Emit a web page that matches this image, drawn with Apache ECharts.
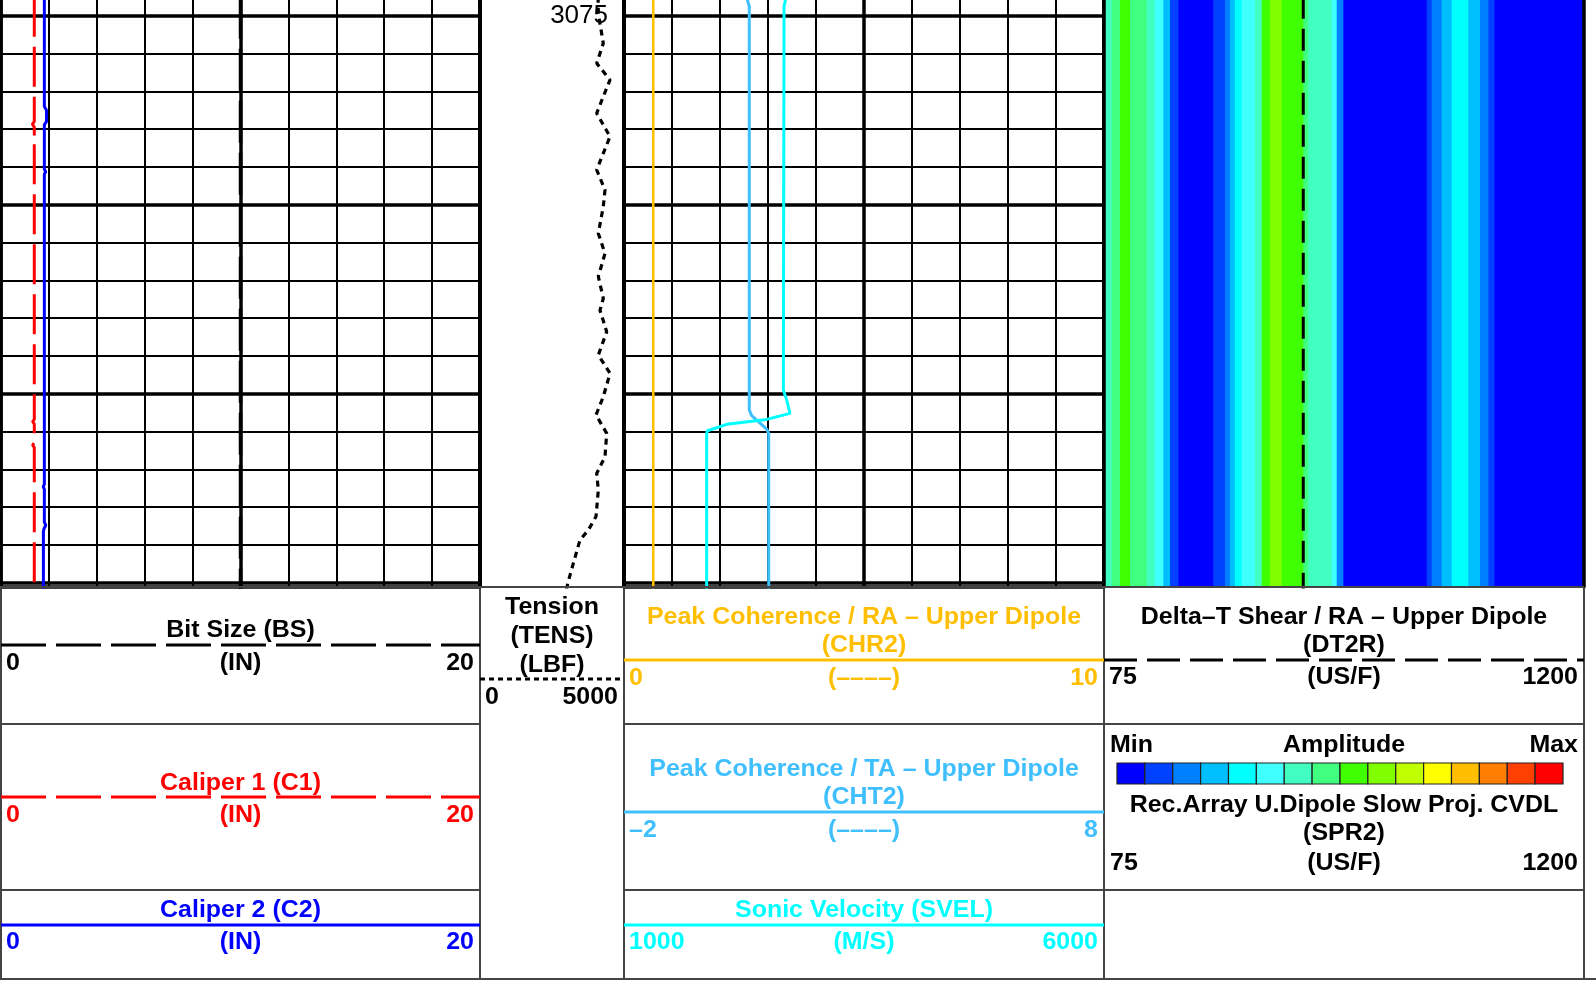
<!DOCTYPE html>
<html>
<head>
<meta charset="utf-8">
<title>Dipole sonic log</title>
<script src="https://cdn.jsdelivr.net/npm/echarts@6/dist/echarts.min.js"></script>
<style>
  html, body { margin: 0; padding: 0; background: #fff; }
  #chart { width: 1596px; height: 982px; }
</style>
</head>
<body>
<div id="chart"></div>
<script>
// ---------------- Depth range (m) ----------------
const DEPTH_MIN = 3070;        // axis origin (multiple of the 1 m / 5 m grid)
const DEPTH_TOP = 3074.585;    // first logged depth shown
const DEPTH_BOTTOM = 3090.114; // last logged depth shown

// ---------------- Track 1: calipers / bit size (IN, 0-20) ----------------
const bsDepth = [3074.5, 3090.2];
const bsValue = [10, 10];

const c1Depth = [3074.5, 3077.80, 3077.87, 3077.95, 3078.22, 3078.29, 3078.36, 3085.68, 3085.74, 3085.80, 3086.30, 3086.36, 3086.42, 3090.2];
const c1Value = [1.39, 1.39, 1.31, 1.39, 1.39, 1.31, 1.39, 1.39, 1.32, 1.39, 1.39, 1.32, 1.39, 1.39];

const c2Depth = [3074.5, 3077.40, 3077.50, 3077.80, 3077.88, 3079.07, 3079.13, 3079.19, 3087.40, 3087.46, 3087.52, 3088.40, 3088.48, 3088.58, 3088.66, 3090.2];
const c2Value = [1.81, 1.81, 1.90, 1.90, 1.81, 1.81, 1.87, 1.81, 1.81, 1.76, 1.81, 1.81, 1.87, 1.79, 1.77, 1.77];

// ---------------- Track 2: tension (LBF, 0-5000) ----------------
const tensDepth = [3074.50, 3074.94, 3075.73, 3076.26, 3076.70, 3077.14, 3077.58, 3078.20, 3078.64, 3079.08, 3079.61, 3080.05, 3080.76, 3081.29, 3081.90, 3082.48, 3082.79, 3083.36, 3083.98, 3084.46, 3085.08, 3085.56, 3086.05, 3086.67, 3087.11, 3087.55, 3088.25, 3088.61, 3088.87, 3089.49, 3090.02, 3090.20];
const tensValue = [4100, 4108, 4281, 4052, 4514, 4281, 4052, 4514, 4281, 4052, 4340, 4281, 4108, 4340, 4108, 4281, 4167, 4399, 4108, 4514, 4281, 4028, 4399, 4340, 4052, 4108, 4028, 3760, 3472, 3240, 3045, 3000];

// ---------------- Track 3: coherence and sonic velocity ----------------
const chr2Depth = [3074.5, 3090.2];
const chr2Value = [0.61, 0.61];

const cht2Depth = [3074.5, 3074.75, 3085.43, 3085.58, 3085.70, 3085.94, 3086.05, 3090.2];
const cht2Value = [0.55, 0.61, 0.61, 0.66, 0.765, 0.973, 1.015, 1.015];

const svelDepth = [3074.5, 3074.75, 3084.90, 3085.17, 3085.52, 3085.68, 3085.81, 3085.98, 3086.05, 3090.2];
const svelValue = [2690, 2667, 2660, 2695, 2729, 2486, 2070, 1870, 1861, 1861];

// ---------------- Track 4: slowness projection (US/F, 75-1200) ----------------
const dt2rDepth = [3074.5, 3090.2];
const dt2rValue = [542, 542];

// SPR2 amplitude class per slowness band (edges in US/F, class 0 = Min ... 15 = Max)
const sprEdges = [75, 93.0, 112.5, 135.9, 175.1, 194.5, 214.0, 229.7, 249.1, 331.2, 358.6, 370.3, 382.0, 397.7, 428.9, 444.6, 464.1, 491.5, 542.1, 553.8, 608.7, 620.4, 635.9, 831.3, 843.0, 866.5, 890.0, 928.8, 956.3, 975.7, 989.8, 1200];
const sprClass = [6, 7, 8, 7, 6, 5, 3, 1, 0, 1, 2, 3, 4, 5, 6, 8, 9, 8, 7, 6, 5, 2, 0, 1, 2, 3, 4, 3, 2, 1, 0];

const ampColors = ['#0000FF', '#0040FF', '#0080FF', '#00BFFF', '#00FFFF', '#40FFFF', '#40FFC0', '#40FF80',
                   '#40FF00', '#80FF00', '#BFFF00', '#FFFF00', '#FFBF00', '#FF8000', '#FF4000', '#FF0000'];

// ---------------- Colours / fonts ----------------
const RED = '#FF0000', BLUE = '#0000FF', ORANGE = '#FFBF00', SKY = '#40BFFF', CYAN = '#00FFFF', BLACK = '#000000';
const FONT = '"Liberation Sans", Arial, Helvetica, sans-serif';

// ---------------- Layout ----------------
const PX_PER_M = 37.8;
const PLOT_BOTTOM = 587;
const gridHeight = (DEPTH_BOTTOM - DEPTH_MIN) * PX_PER_M;
const gridTop = PLOT_BOTTOM - gridHeight;   // above the page: the 3070-3074.6 m part is not shown
const tracks = [
  { x0: 1, x1: 480 },
  { x0: 480, x1: 624 },
  { x0: 624, x1: 1104 },
  { x0: 1104, x1: 1584 }
];

const zip = (d, v) => d.map((dep, i) => [v[i], dep]);

// ---------------- Axes ----------------
const hidden = { axisLine: { show: false }, axisTick: { show: false }, axisLabel: { show: false } };
function gridX(gi, interval, width) {
  return Object.assign({ gridIndex: gi, type: 'value', min: 0, max: 10, interval, position: 'top',
    splitLine: { show: true, lineStyle: { color: BLACK, width } } }, hidden);
}
function curveX(gi, min, max) {
  return Object.assign({ gridIndex: gi, type: 'value', min, max, position: 'top', splitLine: { show: false } }, hidden);
}
function depthY(gi, position, interval, splitWidth, z) {
  return {
    gridIndex: gi, type: 'value', inverse: true, min: DEPTH_MIN, max: DEPTH_BOTTOM, interval, position, z: z || 0,
    axisLine: { show: true, onZero: false, lineStyle: { color: BLACK, width: 3.5 } },
    axisTick: { show: false }, axisLabel: { show: false },
    splitLine: { show: !!splitWidth, lineStyle: { color: BLACK, width: splitWidth || 1 } }
  };
}

const xAxis = [
  gridX(0, 1, 2), gridX(0, 5, 3.5), curveX(0, 0, 20),          // 0,1,2
  curveX(1, 0, 5000),                                          // 3
  gridX(2, 1, 2), gridX(2, 5, 3.5),                            // 4,5
  curveX(2, 0, 10), curveX(2, -2, 8), curveX(2, 1000, 6000),   // 6,7,8
  curveX(3, 75, 1200)                                          // 9
];

const depthLabelAxis = depthY(1, 'right', 5, 0);
depthLabelAxis.axisLabel = {
  show: true, inside: true, margin: 16, color: BLACK, fontFamily: FONT, fontSize: 26,
  verticalAlign: 'middle', padding: [0, 0, 22, 0],
  formatter: v => (Math.abs(v - Math.round(v)) < 1e-6 && Math.round(v) % 25 === 0) ? String(Math.round(v)) : ''
};

const yAxis = [
  depthY(0, 'left', 1, 2), depthY(0, 'right', 5, 3.5),   // 0,1
  depthY(1, 'left', 5, 0), depthLabelAxis,               // 2,3
  depthY(2, 'left', 1, 2), depthY(2, 'right', 5, 3.5),   // 4,5
  depthY(3, 'left', 5, 0, 10), depthY(3, 'right', 5, 0, 10) // 6,7
];

const grid = tracks.map(t => ({
  left: t.x0, width: t.x1 - t.x0, top: gridTop, height: gridHeight,
  containLabel: false, outerBoundsMode: 'none'
}));

// ---------------- Series ----------------
function curve(name, xi, yi, data, color, width, type) {
  return { name, type: 'line', xAxisIndex: xi, yAxisIndex: yi, data, showSymbol: false, symbol: 'none',
    silent: true, z: 4, lineStyle: { color, width, type: type || 'solid' } };
}

const sprData = sprClass.map((c, i) => [sprEdges[i], sprEdges[i + 1], c, DEPTH_TOP, DEPTH_BOTTOM]);

const series = [
  {
    name: 'SPR2', type: 'custom', xAxisIndex: 9, yAxisIndex: 6, silent: true, z: 1,
    encode: { x: [0, 1], y: [3, 4] },
    data: sprData,
    renderItem: (params, api) => {
      const p0 = api.coord([api.value(0), api.value(3)]);
      const p1 = api.coord([api.value(1), api.value(4)]);
      return { type: 'rect', shape: { x: p0[0], y: p0[1], width: p1[0] - p0[0] + 0.6, height: p1[1] - p0[1] },
               style: { fill: ampColors[api.value(2)] } };
    }
  },
  curve('BS', 2, 0, zip(bsDepth, bsValue), BLACK, 3.5, [42, 10]),
  curve('C1', 2, 0, zip(c1Depth, c1Value), RED, 3, [40, 10]),
  curve('C2', 2, 0, zip(c2Depth, c2Value), BLUE, 3),
  curve('TENS', 3, 2, zip(tensDepth, tensValue), BLACK, 3.2, [6, 5]),
  curve('CHR2', 6, 4, zip(chr2Depth, chr2Value), ORANGE, 2.5),
  curve('CHT2', 7, 4, zip(cht2Depth, cht2Value), SKY, 3),
  curve('SVEL', 8, 4, zip(svelDepth, svelValue), CYAN, 3),
  curve('DT2R', 9, 6, zip(dt2rDepth, dt2rValue), BLACK, 3, [22, 10])
];

// ---------------- Header (curve legends) ----------------
const elements = [];
const FRAME = '#444444';
function txt(text, x, y, align, color, size, weight) {
  elements.push({ type: 'text', x, y, scaleX: 1.04, z: 20, silent: true,
    style: { text, fill: color, font: (weight || 'bold') + ' ' + (size || 24) + 'px ' + FONT,
             textAlign: align, textVerticalAlign: 'middle', align, verticalAlign: 'middle' } });
}
function line(x1, y1, x2, y2, color, width, dash) {
  elements.push({ type: 'line', z: 15, silent: true, shape: { x1, y1, x2, y2 },
    style: { stroke: color, lineWidth: width, lineDash: dash || null } });
}
function curveHeader(t, titles, titleY, lineY, labelY, color, dash, left, unit, right) {
  const cx = (t.x0 + t.x1) / 2;
  line(t.x0, lineY, t.x1, lineY, color, 3, dash);
  titles.forEach((s, i) => txt(s, cx, titleY + i * 28, 'center', color));
  txt(left, t.x0 + 5, labelY, 'left', color);
  txt(unit, cx, labelY, 'center', color);
  txt(right, t.x1 - 6, labelY, 'right', color);
}

// header frame
line(0, PLOT_BOTTOM, 1584, PLOT_BOTTOM, FRAME, 2);
[724, 890].forEach(y => { line(0, y, 480, y, FRAME, 2); line(624, y, 1584, y, FRAME, 2); });
line(0, 979, 1596, 979, FRAME, 2);
[1, 480, 624, 1104, 1584].forEach(x => line(x, PLOT_BOTTOM, x, 979, FRAME, 2));

// track 1
curveHeader(tracks[0], ['Bit Size (BS)'], 630, 645, 663, BLACK, [45, 10], '0', '(IN)', '20');
curveHeader(tracks[0], ['Caliper 1 (C1)'], 783, 797, 815, RED, [45, 10], '0', '(IN)', '20');
curveHeader(tracks[0], ['Caliper 2 (C2)'], 910, 925, 942, BLUE, null, '0', '(IN)', '20');

// track 2
txt('Tension', 552, 607, 'center', BLACK);
txt('(TENS)', 552, 636, 'center', BLACK);
txt('(LBF)', 552, 665, 'center', BLACK);
line(480, 679, 624, 679, BLACK, 3, [5, 4]);
txt('0', 485, 697, 'left', BLACK);
txt('5000', 618, 697, 'right', BLACK);

// track 3
curveHeader(tracks[2], ['Peak Coherence / RA \u2013 Upper Dipole', '(CHR2)'], 617, 660, 678, ORANGE, null, '0', '(\u2013\u2013\u2013\u2013)', '10');
curveHeader(tracks[2], ['Peak Coherence / TA \u2013 Upper Dipole', '(CHT2)'], 769, 812, 830, SKY, null, '\u20132', '(\u2013\u2013\u2013\u2013)', '8');
curveHeader(tracks[2], ['Sonic Velocity (SVEL)'], 910, 925, 942, CYAN, null, '1000', '(M/S)', '6000');

// track 4
curveHeader(tracks[3], ['Delta\u2013T Shear / RA \u2013 Upper Dipole', '(DT2R)'], 617, 660, 677, BLACK, [33, 10], '75', '(US/F)', '1200');
txt('Min', 1110, 745, 'left', BLACK);
txt('Amplitude', 1344, 745, 'center', BLACK);
txt('Max', 1578, 745, 'right', BLACK);
const cbX0 = 1117, cbX1 = 1563, cbY = 763, cbH = 21;
const cbW = (cbX1 - cbX0) / ampColors.length;
ampColors.forEach((c, i) => elements.push({ type: 'rect', z: 15, silent: true,
  shape: { x: cbX0 + i * cbW, y: cbY, width: cbW, height: cbH },
  style: { fill: c, stroke: '#222', lineWidth: 1.2 } }));
txt('Rec.Array U.Dipole Slow Proj. CVDL', 1344, 805, 'center', BLACK);
txt('(SPR2)', 1344, 833, 'center', BLACK);
txt('75', 1110, 863, 'left', BLACK);
txt('(US/F)', 1344, 863, 'center', BLACK);
txt('1200', 1578, 863, 'right', BLACK);

// ---------------- Chart ----------------
const chart = echarts.init(document.getElementById('chart'), null, { renderer: 'canvas' });
chart.setOption({
  animation: false,
  backgroundColor: '#ffffff',
  grid, xAxis, yAxis, series,
  graphic: { elements }
});
</script>
</body>
</html>
